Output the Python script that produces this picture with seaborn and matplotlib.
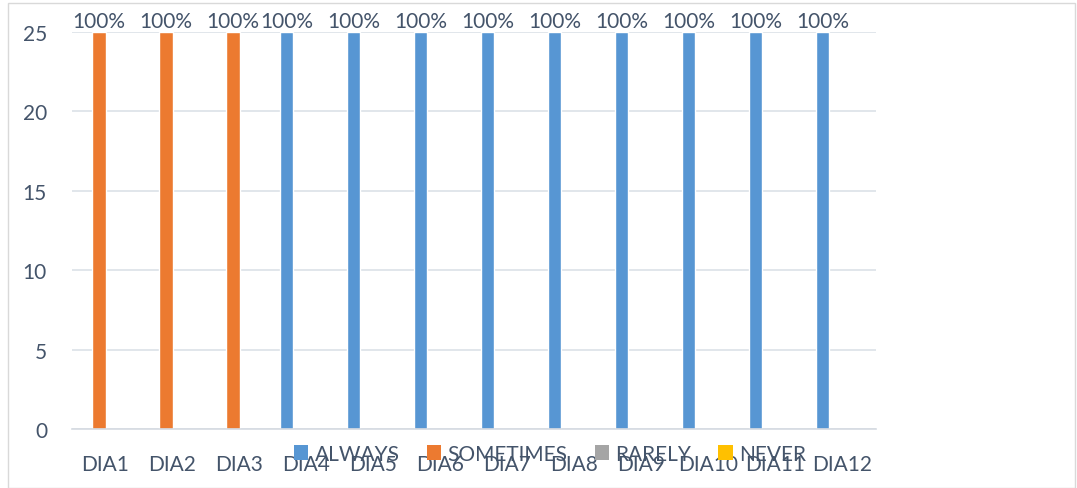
import pandas as pd
import seaborn as sns
import matplotlib.pyplot as plt
from matplotlib.patches import Patch, Rectangle

# Data
items = ["DIA1", "DIA2", "DIA3", "DIA4", "DIA5", "DIA6",
         "DIA7", "DIA8", "DIA9", "DIA10", "DIA11", "DIA12"]
series = ["ALWAYS", "SOMETIMES", "RARELY", "NEVER"]
always = [0, 0, 0, 25, 25, 25, 25, 25, 25, 25, 25, 25]
sometimes = [25, 25, 25, 0, 0, 0, 0, 0, 0, 0, 0, 0]
rarely = [0] * 12
never = [0] * 12
percent = ["100%"] * 12

colors = ["#5796D3", "#EC7A30", "#A5A5A5", "#FFC000"]
text_col = "#44546A"
fs = 15

rows = []
for name, vals in zip(series, [always, sometimes, rarely, never]):
    for it, v in zip(items, vals):
        rows.append({"item": it, "answer": name, "count": v})
df = pd.DataFrame(rows)

sns.set_style("white")
plt.rcParams["font.family"] = ["Lato", "DejaVu Sans"]

fig = plt.figure(figsize=(10.77, 4.89), dpi=100)
ax = fig.add_axes([72 / 1077, 1 - 430 / 489, 804 / 1077, 397 / 489])

sns.barplot(data=df, x="item", y="count", hue="answer", order=items,
            hue_order=series, palette=colors, width=0.8, saturation=1,
            legend=False, ax=ax)

# value labels only on the non-empty bars
for cont, vals in zip(ax.containers, [always, sometimes, rarely, never]):
    labs = [p if v > 0 else "" for p, v in zip(percent, vals)]
    ax.bar_label(cont, labels=labs, padding=1, fontsize=fs, color=text_col)

ax.set_ylim(0, 25)
ax.set_yticks([0, 5, 10, 15, 20, 25])
ax.set_xlim(-0.5, 11.5)
ax.set_xlabel("")
ax.set_ylabel("")
ax.yaxis.grid(True, color="#DCE1E8", linewidth=1.2)
ax.set_axisbelow(True)
for s in ["top", "right", "left"]:
    ax.spines[s].set_visible(False)
ax.spines["bottom"].set_color("#D5DAE1")
ax.spines["bottom"].set_linewidth(1.2)
ax.tick_params(axis="both", length=0, labelsize=fs, labelcolor=text_col)
ax.tick_params(axis="x", pad=18)
ax.tick_params(axis="y", pad=18)

# legend sits over the x tick labels, as in the original chart
handles = [Patch(facecolor=c, edgecolor="none") for c in colors]
fig.legend(handles, series, loc="center", ncol=4, frameon=False,
           bbox_to_anchor=(550 / 1077, 1 - 455 / 489), fontsize=fs,
           labelcolor=text_col, handlelength=0.7, handleheight=0.7,
           handletextpad=0.3, columnspacing=1.3)

# outer chart frame
fig.patches.append(Rectangle((8 / 1077, 0), 1067 / 1077, 1 - 4 / 489,
                             transform=fig.transFigure, fill=False,
                             edgecolor="#D9D9D9", linewidth=1))

fig.savefig("out.png", dpi=100)
